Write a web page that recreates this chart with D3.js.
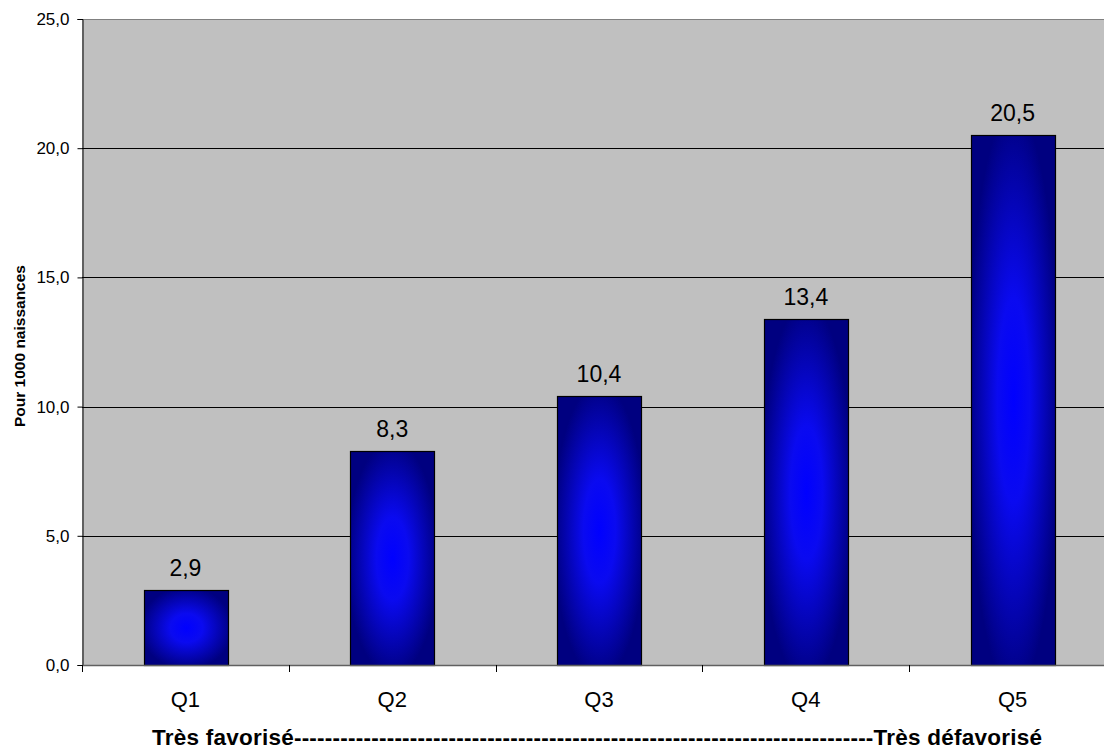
<!DOCTYPE html>
<html>
<head>
<meta charset="utf-8">
<script src="https://cdn.jsdelivr.net/npm/d3@7/dist/d3.min.js"></script>
<style>
  html, body { margin: 0; padding: 0; background: #fff; overflow: hidden; }
  svg { display: block; font-family: "Liberation Sans", Arial, sans-serif; }
</style>
</head>
<body>
<svg id="chart" width="1104" height="750"></svg>
<script>
const categories = ["Q1", "Q2", "Q3", "Q4", "Q5"];
const values = [2.9, 8.3, 10.4, 13.4, 20.5];
const yTicks = [0, 5, 10, 15, 20, 25];
const valueLabels = ["2,9", "8,3", "10,4", "13,4", "20,5"];
const yTitle = "Pour 1000 naissances";
const xTitle = "Très favorisé" + "-".repeat(75) + "Très défavorisé";

(function () {
const svg = d3.select("#chart");
const pLeft = 82, pRight = 1116, pTop = 19, pBottom = 665;

const x = d3.scaleBand().domain(categories).range([pLeft, pRight])
  .paddingInner(0.596).paddingOuter(0.298);
const xCat = d3.scaleBand().domain(categories).range([pLeft, pRight]).padding(0);
const y = d3.scaleLinear().domain([0, 25]).range([pBottom, pTop]);

const fmt = v => d3.format(".1f")(v).replace(".", ",");

// gradient
const defs = svg.append("defs");
const grad = defs.append("radialGradient").attr("id", "barGrad")
  .attr("cx", "50%").attr("cy", "50%").attr("r", "55%");
grad.append("stop").attr("offset", "0%").attr("stop-color", "#0000ff");
grad.append("stop").attr("offset", "35%").attr("stop-color", "#0a0af0");
grad.append("stop").attr("offset", "100%").attr("stop-color", "#000080");

// plot background
svg.append("rect").attr("x", pLeft).attr("y", pTop)
  .attr("width", pRight - pLeft).attr("height", pBottom - pTop)
  .attr("fill", "#c0c0c0");

// top border
svg.append("line").attr("x1", pLeft).attr("x2", pRight)
  .attr("y1", y(25) + 0.5).attr("y2", y(25) + 0.5)
  .attr("stroke", "#808080").attr("stroke-width", 1);

// gridlines
svg.append("g").selectAll("line").data(yTicks.filter(t => t > 0 && t < 25)).join("line")
  .attr("x1", pLeft).attr("x2", pRight)
  .attr("y1", d => Math.round(y(d)) + 0.5).attr("y2", d => Math.round(y(d)) + 0.5)
  .attr("stroke", "#000").attr("stroke-width", 1);

// bars
svg.append("g").selectAll("rect").data(values).join("rect")
  .attr("x", (d, i) => Math.round(x(categories[i])) + 0.5)
  .attr("y", d => Math.round(y(d)) + 0.5)
  .attr("width", Math.round(x.bandwidth()))
  .attr("height", d => Math.round(y(0)) - Math.round(y(d)))
  .attr("fill", "url(#barGrad)")
  .attr("stroke", "#000").attr("stroke-width", 1.2);

// value labels
svg.append("g").selectAll("text").data(values).join("text")
  .attr("x", (d, i) => x(categories[i]) + x.bandwidth() / 2)
  .attr("y", d => y(d) - 14)
  .attr("text-anchor", "middle")
  .attr("font-size", 23)
  .attr("fill", "#000")
  .text((d, i) => valueLabels[i]);

// y axis
const yAxis = d3.axisLeft(y).tickValues(yTicks).tickSize(5).tickPadding(8).tickFormat(fmt);
const gy = svg.append("g").attr("transform", `translate(${pLeft + 0.5},0)`).call(yAxis);
gy.select(".domain").attr("stroke", "#000");
gy.selectAll(".tick line").attr("stroke", "#000");
gy.selectAll(".tick text").attr("font-size", 17).attr("fill", "#000")
  .attr("font-family", '"Liberation Sans", Arial, sans-serif');

// x axis baseline
svg.append("line").attr("x1", pLeft).attr("x2", pRight)
  .attr("y1", pBottom + 0.5).attr("y2", pBottom + 0.5)
  .attr("stroke", "#606060").attr("stroke-width", 1.5);

// x category boundary ticks
const bounds = categories.map(c => xCat(c)).concat([pRight]);
svg.append("g").selectAll("line").data(bounds).join("line")
  .attr("x1", d => Math.round(d) + 0.5).attr("x2", d => Math.round(d) + 0.5)
  .attr("y1", pBottom).attr("y2", pBottom + 7)
  .attr("stroke", "#000").attr("stroke-width", 1);

// category labels
svg.append("g").selectAll("text").data(categories).join("text")
  .attr("x", d => xCat(d) + xCat.bandwidth() / 2)
  .attr("y", 707)
  .attr("text-anchor", "middle")
  .attr("font-size", 22)
  .attr("fill", "#000")
  .text(d => d);

// x title
svg.append("text")
  .attr("x", 152).attr("y", 745)
  .attr("font-size", 22.5).attr("font-weight", "bold")
  .attr("textLength", 890).attr("lengthAdjust", "spacing")
  .attr("fill", "#000")
  .text(xTitle);

// y title
svg.append("text")
  .attr("transform", "translate(25,346) rotate(-90)")
  .attr("text-anchor", "middle")
  .attr("font-size", 15.5).attr("font-weight", "bold")
  .attr("fill", "#000")
  .text(yTitle);
})();
</script>
</body>
</html>
